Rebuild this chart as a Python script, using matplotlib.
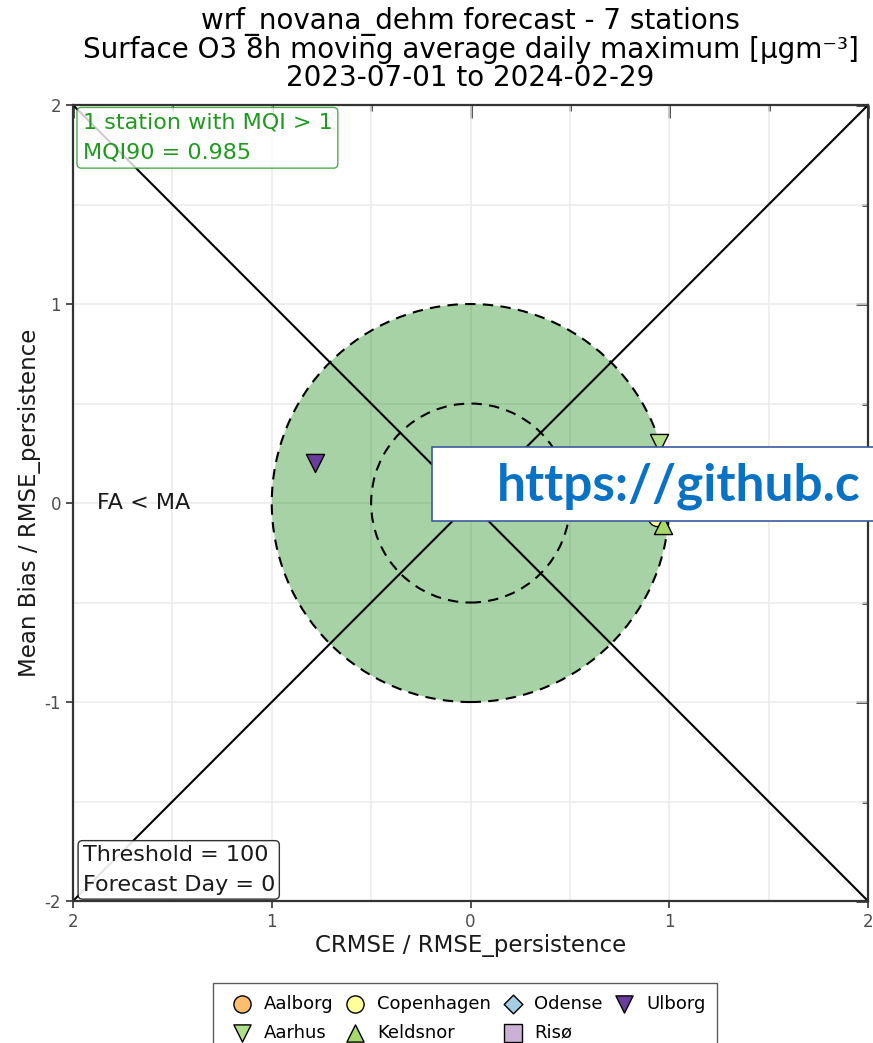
import matplotlib
matplotlib.use("Agg")
import matplotlib.pyplot as plt
from matplotlib.patches import Circle, Rectangle
from matplotlib.ticker import FixedLocator, FuncFormatter, NullFormatter

# station values (CRMSE / RMSE_persistence, Mean Bias / RMSE_persistence)
stations = ["Aalborg", "Aarhus", "Copenhagen", "Keldsnor", "Odense", "Risø", "Ulborg"]
crmse = [1.05, 0.95, 0.94, 0.97, 0.90, 0.82, -0.78]
bias = [0.12, 0.30, -0.07, -0.11, 0.05, 0.15, 0.20]
markers = ["o", "v", "o", "^", "D", "s", "v"]
colors = ["#fdbf6f", "#b2df8a", "#ffff99", "#a6d96a", "#a6cee3", "#cab2d6", "#6a3d9a"]

title = ("wrf_novana_dehm forecast - 7 stations\n"
         "Surface O3 8h moving average daily maximum [µgm⁻³]\n"
         "2023-07-01 to 2024-02-29")
mqi_text = "1 station with MQI > 1\nMQI90 = 0.985"
info_text = "Threshold = 100\nForecast Day = 0"

fig = plt.figure(figsize=(8.73, 10.43), dpi=100)
ax = fig.add_axes([0.0836, 0.1361, 0.9107, 0.7632])

ax.set_xlim(-2, 2)
ax.set_ylim(-2, 2)

# grid
major = [-2, -1, 0, 1, 2]
minor = [-1.5, -0.5, 0.5, 1.5]
ax.xaxis.set_major_locator(FixedLocator(major))
ax.yaxis.set_major_locator(FixedLocator(major))
ax.xaxis.set_minor_locator(FixedLocator(minor))
ax.yaxis.set_minor_locator(FixedLocator(minor))
ax.grid(which="both", color="#ebebeb", lw=1.1, zorder=0)
ax.set_axisbelow(True)

# target circles
ax.add_patch(Circle((0, 0), 1, facecolor="green", alpha=0.35, edgecolor="none", zorder=1))
ax.add_patch(Circle((0, 0), 1, fill=False, edgecolor="black", ls=(0, (5, 3.5)), lw=1.5, zorder=2))
ax.add_patch(Circle((0, 0), 0.5, fill=False, edgecolor="black", ls=(0, (5, 3.5)), lw=1.5, zorder=2))

# diagonals
ax.plot([-2, 2], [-2, 2], color="black", lw=1.5, zorder=2)
ax.plot([-2, 2], [2, -2], color="black", lw=1.5, zorder=2)

for name, x, y, m, c in zip(stations, crmse, bias, markers, colors):
    ax.scatter(x, y, marker=m, s=170 if m != "D" else 100, color=c,
               edgecolor="black", linewidths=1, zorder=5, label=name)

ax.text(-1.88, 0, "FA < MA", fontsize=16, va="center", ha="left", color="#1a1a1a")

ax.text(0.012, 0.99, mqi_text, transform=ax.transAxes, va="top", ha="left",
        fontsize=16, color="#1f9a1f", linespacing=1.6,
        bbox=dict(boxstyle="round,pad=0.25,rounding_size=0.2", facecolor="white",
                  edgecolor="#1f9a1f", alpha=0.8), zorder=6)
ax.text(0.012, 0.008, info_text, transform=ax.transAxes, va="bottom", ha="left",
        fontsize=16, color="#1a1a1a", linespacing=1.6,
        bbox=dict(boxstyle="round,pad=0.2,rounding_size=0.2", facecolor="white",
                  edgecolor="#1a1a1a", alpha=0.9), zorder=6)

# ticks
ax.xaxis.set_major_formatter(FuncFormatter(lambda v, p: f"{abs(v):g}"))
ax.yaxis.set_major_formatter(FuncFormatter(lambda v, p: f"{v:g}"))
ax.tick_params(which="major", direction="out", length=5, width=1.2,
               color="#333333", labelcolor="#4d4d4d", labelsize=12)
ax.tick_params(which="minor", length=0)
for s in ax.spines.values():
    s.set_color("#333333")
    s.set_linewidth(1.6)

secx = ax.secondary_xaxis("top")
secy = ax.secondary_yaxis("right")
for sec, axis in ((secx, "x"), (secy, "y")):
    sec.set_ticks(major)
    sec.set_ticks(minor, minor=True)
    getattr(sec, axis + "axis").set_major_formatter(NullFormatter())
    sec.tick_params(which="major", direction="in", length=9, width=1.8, color="#222222")
    sec.tick_params(which="minor", direction="in", length=4, width=1.8, color="#222222")
    sec.spines[:].set_visible(False)

ax.set_xlabel("CRMSE / RMSE_persistence", fontsize=16.5, color="#1a1a1a", labelpad=2)
ax.set_ylabel("Mean Bias / RMSE_persistence", fontsize=16.5, color="#1a1a1a", labelpad=3)
ax.set_title(title, fontsize=20, linespacing=1.0, pad=14)

handles, labels = ax.get_legend_handles_labels()
ax.legend(handles, labels,
          loc="upper center", bbox_to_anchor=(0.493, -0.103), ncol=4,
          fontsize=13, frameon=True, fancybox=False, edgecolor="#333333",
          handletextpad=0.2, columnspacing=0.2, borderaxespad=0,
          borderpad=0.65, labelspacing=0.6, markerscale=0.95)

# overlay link box
fig.add_artist(Rectangle((0.4948, 0.5005), 0.52, 0.0709, transform=fig.transFigure,
                         facecolor="white", edgecolor="#3b5aa0", lw=1.2, zorder=20))
fig.text(0.569, 0.534, "https://github.c", fontsize=37, color="#0a72c4",
         fontfamily="Lato", fontweight="bold", va="center", ha="left", zorder=21)

fig.savefig("out.png", dpi=100)
